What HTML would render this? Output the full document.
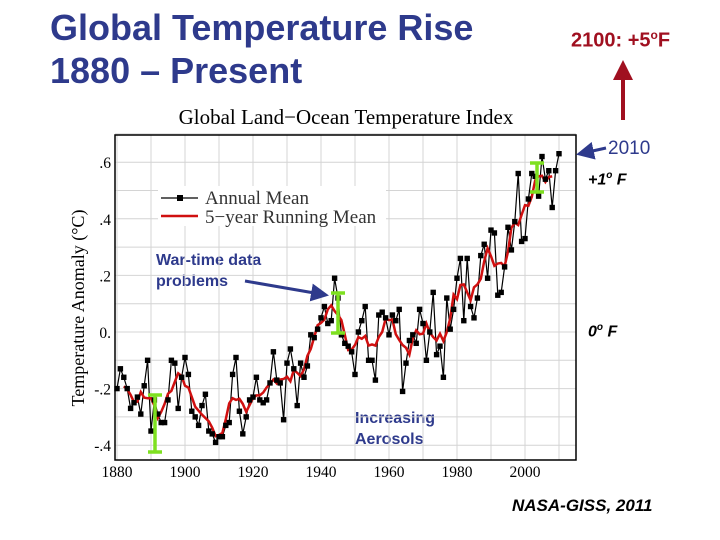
<!DOCTYPE html>
<html><head><meta charset="utf-8"><style>
body{margin:0;background:#fff;width:720px;height:540px;overflow:hidden;font-family:"Liberation Sans",sans-serif}
.t{position:absolute;white-space:nowrap}
</style></head><body>
<div class="t" style="left:50px;top:6px;font-size:36px;font-weight:bold;color:#2E3A8C;line-height:43px">Global Temperature Rise<br>1880 – Present</div>
<div class="t" style="left:571px;top:28px;font-size:20px;font-weight:bold;color:#A01020">2100: +5<sup style="font-size:12px">o</sup>F</div>
<div class="t" style="left:608px;top:138px;font-size:19px;color:#2E3A8C">2010</div>
<div class="t" style="left:588px;top:170px;font-size:16px;font-style:italic;font-weight:bold">+1<sup style="font-size:10px">o</sup> F</div>
<div class="t" style="left:588px;top:322px;font-size:16px;font-style:italic;font-weight:bold">0<sup style="font-size:10px">o</sup> F</div>
<div class="t" style="left:156px;top:250px;font-size:16px;font-weight:bold;color:#2E3A8C;line-height:21px">War-time data<br>problems</div>
<div class="t" style="left:355px;top:408px;font-size:16px;font-weight:bold;color:#2E3A8C;line-height:21px">Increasing<br>Aerosols</div>
<div class="t" style="left:512px;top:496px;font-size:17px;font-style:italic;font-weight:bold">NASA-GISS, 2011</div>
<svg id="c" width="720" height="540" style="position:absolute;left:0;top:0"></svg>
<script>
const years=[];for(let y=1880;y<=2010;y++)years.push(y);
const annual=[-0.20,-0.13,-0.16,-0.20,-0.27,-0.25,-0.23,-0.29,-0.19,-0.10,
-0.35,-0.24,-0.29,-0.32,-0.32,-0.24,-0.10,-0.11,-0.27,-0.16,
-0.09,-0.15,-0.28,-0.30,-0.33,-0.26,-0.22,-0.35,-0.36,-0.39,
-0.37,-0.37,-0.33,-0.32,-0.15,-0.09,-0.28,-0.36,-0.30,-0.24,
-0.23,-0.16,-0.24,-0.25,-0.24,-0.18,-0.07,-0.17,-0.18,-0.31,
-0.11,-0.06,-0.13,-0.26,-0.11,-0.16,-0.12,-0.01,-0.02,0.01,
0.05,0.09,0.03,0.04,0.19,0.12,-0.01,-0.04,-0.05,-0.07,
-0.15,0.00,0.04,0.09,-0.10,-0.10,-0.17,0.06,0.07,0.05,
-0.01,0.06,0.04,0.08,-0.21,-0.11,-0.03,-0.01,-0.04,0.08,
0.03,-0.10,0.00,0.14,-0.08,-0.05,-0.16,0.12,0.01,0.08,
0.19,0.26,0.04,0.26,0.09,0.05,0.12,0.27,0.31,0.19,
0.36,0.35,0.13,0.14,0.23,0.37,0.29,0.39,0.56,0.32,
0.33,0.47,0.56,0.55,0.48,0.62,0.54,0.57,0.44,0.57,0.63];
const xTicks=[1880,1900,1920,1940,1960,1980,2000];
const yTicks=[0.6,0.4,0.2,0,-0.2,-0.4];
const yTickLabels=[".6",".4",".2","0.","-.2","-.4"];
const NS='http://www.w3.org/2000/svg',svg=document.getElementById('c');
const X=y=>117+(y-1880)*3.4, Y=v=>332-v*283;
function mk(t,a,p){const e=document.createElementNS(NS,t);for(const k in a)e.setAttribute(k,a[k]);(p||svg).appendChild(e);return e;}
for(let y=1880;y<=2010;y+=10){const g=mk('line',{x1:X(y),x2:X(y),y1:135,y2:460,stroke:'#d4d4d4','stroke-width':1});

}
for(let v=-0.4;v<=0.71;v+=0.1){const g=mk('line',{x1:115,x2:576,y1:Y(v),y2:Y(v),stroke:'#d4d4d4','stroke-width':1});

}
const fr=mk('rect',{x:115,y:135,width:461,height:325,fill:'none',stroke:'#000','stroke-width':1.5});


xTicks.forEach(y=>{const t=mk('text',{x:X(y),y:477,'text-anchor':'middle','font-family':'Liberation Serif, serif','font-size':15.5});t.textContent=y;

});
yTicks.forEach((v,i)=>{const t=mk('text',{x:111,y:Y(v)+6,'text-anchor':'end','font-family':'Liberation Serif, serif','font-size':15.5});t.textContent=yTickLabels[i];

});
const tt=mk('text',{x:346,y:124,'text-anchor':'middle','font-family':'Liberation Serif, serif','font-size':21});tt.textContent='Global Land−Ocean Temperature Index';


const yl=mk('text',{x:0,y:0,transform:'translate(84,308) rotate(-90)','text-anchor':'middle','font-family':'Liberation Serif, serif','font-size':18});yl.textContent='Temperature Anomaly (°C)';


const lg=mk('g',{});


mk('rect',{x:158,y:186,width:228,height:40,fill:'#fff'},lg);
mk('line',{x1:161,x2:198,y1:198,y2:198,stroke:'#000','stroke-width':1.3},lg);
mk('rect',{x:177,y:195,width:6,height:6,fill:'#000'},lg);
mk('line',{x1:161,x2:198,y1:216,y2:216,stroke:'#d01010','stroke-width':2.5},lg);
let l1=mk('text',{x:205,y:204,'font-family':'Liberation Serif, serif','font-size':19,fill:'#333'},lg);l1.textContent='Annual Mean';
let l2=mk('text',{x:205,y:223,'font-family':'Liberation Serif, serif','font-size':19,fill:'#333'},lg);l2.textContent='5−year Running Mean';
const ap=mk('polyline',{points:annual.map((v,i)=>X(years[i])+','+Y(v)).join(' '),fill:'none',stroke:'#000','stroke-width':1.2});


const rm=[];for(let i=2;i<annual.length-2;i++){let s=0;for(let k=-2;k<=2;k++)s+=annual[i+k];rm.push([years[i],s/5]);}
const rp=mk('polyline',{points:rm.map(p=>X(p[0])+','+Y(p[1])).join(' '),fill:'none',stroke:'#d01010','stroke-width':2.5});


annual.forEach((v,i)=>{const r=mk('rect',{x:X(years[i])-2.7,y:Y(v)-2.7,width:5.4,height:5.4,fill:'#000'});

});
[[155,395,452],[338,293,333],[537,163,192]].forEach(b=>{const g=mk('g',{stroke:'#7ee020','stroke-width':3.5});


mk('line',{x1:b[0],x2:b[0],y1:b[1],y2:b[2]},g);mk('line',{x1:b[0]-7,x2:b[0]+7,y1:b[1],y2:b[1]},g);mk('line',{x1:b[0]-7,x2:b[0]+7,y1:b[2],y2:b[2]},g);});
mk('defs',{}).innerHTML='<marker id="ab" markerWidth="6" markerHeight="6" refX="5" refY="3" orient="auto"><path d="M0,0L6,3L0,6z" fill="#2E3A8C"/></marker><marker id="ar" markerWidth="5" markerHeight="5" refX="4" refY="2.5" orient="auto"><path d="M0,0L5,2.5L0,5z" fill="#A01020"/></marker>';
let a1=mk('line',{x1:245,y1:281,x2:326,y2:295,stroke:'#2E3A8C','stroke-width':3,'marker-end':'url(#ab)'});


let a2=mk('line',{x1:606,y1:148,x2:579,y2:154,stroke:'#2E3A8C','stroke-width':3,'marker-end':'url(#ab)'});


let a3=mk('line',{x1:623,y1:120,x2:623,y2:64,stroke:'#A01020','stroke-width':4,'marker-end':'url(#ar)'});


</script>
</body></html>
